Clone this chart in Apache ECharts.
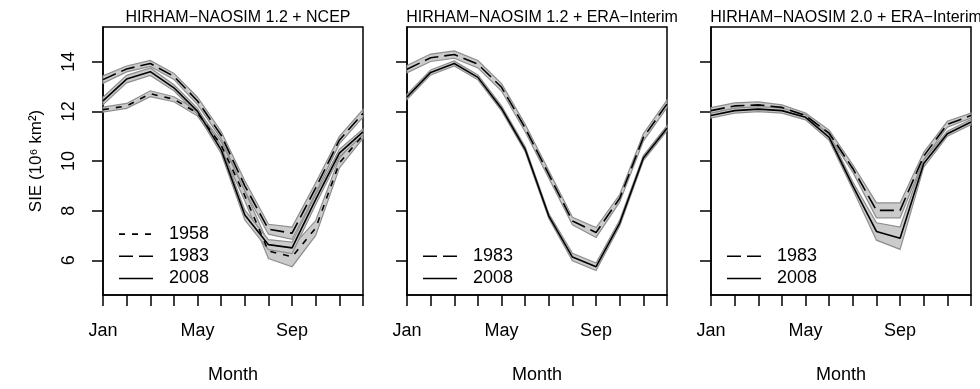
<!DOCTYPE html>
<html><head><meta charset="utf-8">
<script src="https://cdn.jsdelivr.net/npm/echarts@6/dist/echarts.min.js"></script>
<style>html,body{margin:0;padding:0;background:#fff}#c{width:980px;height:389px}</style>
</head><body><div id="c"></div>
<script>
// ---------- data ----------
const months = ['Jan','Feb','Mar','Apr','May','Jun','Jul','Aug','Sep','Oct','Nov','Dec'];
const monthNums = [1,2,3,4,5,6,7,8,9,10,11,12];
const xLabelMonths = [1,5,9];
const yTicks = [6,8,10,12,14];
const panelTitles = ['HIRHAM\u2212NAOSIM 1.2 + NCEP','HIRHAM\u2212NAOSIM 1.2 + ERA\u2212Interim','HIRHAM\u2212NAOSIM 2.0 + ERA\u2212Interim'];

// Panel 1: HIRHAM-NAOSIM 1.2 + NCEP (ensemble mean and half-spread)
const p1_1958 = [12.07,12.22,12.71,12.49,11.93,10.64,8.60,6.37,6.14,7.30,9.92,11.04];
const p1_1958_sd = [0.10,0.10,0.12,0.10,0.12,0.15,0.20,0.30,0.40,0.30,0.20,0.12];
const p1_1983 = [13.28,13.71,13.93,13.41,12.42,11.04,9.00,7.25,7.09,8.92,10.84,11.92];
const p1_1983_sd = [0.15,0.12,0.12,0.12,0.15,0.15,0.20,0.20,0.25,0.20,0.15,0.15];
const p1_2008 = [12.42,13.30,13.60,12.95,12.00,10.45,7.82,6.63,6.50,8.45,10.32,11.17];
const p1_2008_sd = [0.15,0.15,0.15,0.12,0.12,0.15,0.20,0.20,0.23,0.20,0.15,0.12];

// Panel 2: HIRHAM-NAOSIM 1.2 + ERA-Interim
const p2_1983 = [13.70,14.16,14.29,13.90,12.97,11.33,9.46,7.58,7.12,8.50,10.95,12.30];
const p2_1983_sd = [0.15,0.15,0.15,0.15,0.15,0.15,0.15,0.15,0.20,0.15,0.15,0.15];
const p2_2008 = [12.58,13.57,13.93,13.37,12.12,10.47,7.78,6.13,5.74,7.50,10.12,11.32];
const p2_2008_sd = [0.10,0.10,0.10,0.10,0.10,0.10,0.10,0.15,0.15,0.12,0.10,0.10];

// Panel 3: HIRHAM-NAOSIM 2.0 + ERA-Interim
const p3_1983 = [12.03,12.22,12.26,12.16,11.83,11.12,9.70,8.01,8.01,10.20,11.48,11.83];
const p3_1983_sd = [0.12,0.12,0.12,0.10,0.10,0.12,0.15,0.30,0.30,0.15,0.12,0.10];
const p3_2008 = [11.83,12.03,12.09,12.03,11.76,10.95,9.00,7.16,6.89,9.90,11.10,11.57];
const p3_2008_sd = [0.10,0.10,0.10,0.10,0.10,0.12,0.15,0.35,0.45,0.15,0.10,0.10];

// ---------- layout / style ----------
const FONT = 'Liberation Sans, Arial, Helvetica, sans-serif';
const gridLefts = [103, 407, 711];
const gridTop = 27, gridW = 260, gridH = 272;
const dashStyles = {'1958':[6,7], '1983':[14,6], '2008':'solid'};

const panels = [
  [{name:'1958', v:p1_1958, sd:p1_1958_sd},{name:'1983', v:p1_1983, sd:p1_1983_sd},{name:'2008', v:p1_2008, sd:p1_2008_sd}],
  [{name:'1983', v:p2_1983, sd:p2_1983_sd},{name:'2008', v:p2_2008, sd:p2_2008_sd}],
  [{name:'1983', v:p3_1983, sd:p3_1983_sd},{name:'2008', v:p3_2008, sd:p3_2008_sd}]
];

const grid = [], xAxis = [], yAxis = [], series = [], title = [], graphic = [];
panels.forEach((pan, p) => {
  grid.push({left:gridLefts[p], top:gridTop, width:gridW, height:gridH, show:true,
    borderColor:'#000', borderWidth:1.5, backgroundColor:'transparent'});
  title.push({text:panelTitles[p], left:gridLefts[p]+gridW/2, top:5, textAlign:'center',
    textStyle:{fontFamily:FONT, fontSize:16, fontWeight:'normal', color:'#000'}});
  xAxis.push({type:'value', gridIndex:p, min:1, max:12,
    axisLine:{show:true, lineStyle:{color:'#000', width:1.5}},
    axisTick:{show:true, inside:false, length:11, customValues:monthNums, lineStyle:{color:'#000', width:1.5}},
    axisLabel:{show:true, customValues:xLabelMonths, formatter:v=>months[Math.round(v)-1],
      fontFamily:FONT, fontSize:18, color:'#000', margin:27},
    splitLine:{show:false},
    name:'Month', nameLocation:'middle', nameGap:71,
    nameTextStyle:{fontFamily:FONT, fontSize:18, color:'#000'}});
  yAxis.push({type:'value', gridIndex:p, min:4.6, max:15.4,
    axisLine:{show:true, lineStyle:{color:'#000', width:1.5}},
    axisTick:{show:true, inside:false, length:11, customValues:yTicks, lineStyle:{color:'#000', width:1.5}},
    axisLabel:{show:p===0, customValues:yTicks, rotate:90, fontFamily:FONT, fontSize:18, color:'#000', margin:25},
    splitLine:{show:false},
    name: p===0 ? 'SIE (10\u2076 km\u00B2)' : '', nameLocation:'middle', nameGap:58,
    nameTextStyle:{fontFamily:FONT, fontSize:17, color:'#000'}});
  // bands first
  pan.forEach(s => {
    series.push({type:'custom', xAxisIndex:p, yAxisIndex:p, z:1, silent:true, animation:false,
      data:[[1, s.v[0]]],
      renderItem:(params, api) => {
        const up = s.v.map((v,i)=>api.coord([i+1, v+s.sd[i]]));
        const lo = s.v.map((v,i)=>api.coord([i+1, v-s.sd[i]])).reverse();
        return {type:'polygon', shape:{points:up.concat(lo)},
          style:{fill:'#cbcbcb', stroke:'#8e8e8e', lineWidth:1.2}};
      }});
  });
  // lines on top
  pan.forEach(s => {
    series.push({type:'line', name:s.name, xAxisIndex:p, yAxisIndex:p, z:3, animation:false,
      symbol:'none', showSymbol:false, silent:true,
      data:s.v.map((v,i)=>[monthNums[i], v]),
      lineStyle:{color:'#000', width:1.6, type:dashStyles[s.name]}});
  });
  // legend (drawn as graphics)
  const n = pan.length;
  pan.forEach((s, k) => {
    const y = 278.5 - (n-1-k)*22.2;
    const x0 = gridLefts[p] + 16;
    const ds = dashStyles[s.name];
    graphic.push({type:'line', shape:{x1:x0, y1:y, x2:x0+34, y2:y}, z:10,
      style:{stroke:'#000', lineWidth:1.6, lineDash: ds==='solid'?null:ds}});
    graphic.push({type:'text', x:x0+50, y:y, z:10,
      style:{text:s.name, fontFamily:FONT, fontSize:18, fill:'#000', verticalAlign:'middle', align:'left'}});
  });
});

const chart = echarts.init(document.getElementById('c'), null, {renderer:'canvas'});
chart.setOption({animation:false, backgroundColor:'#fff', title, grid, xAxis, yAxis, series, graphic});
</script>
</body></html>
